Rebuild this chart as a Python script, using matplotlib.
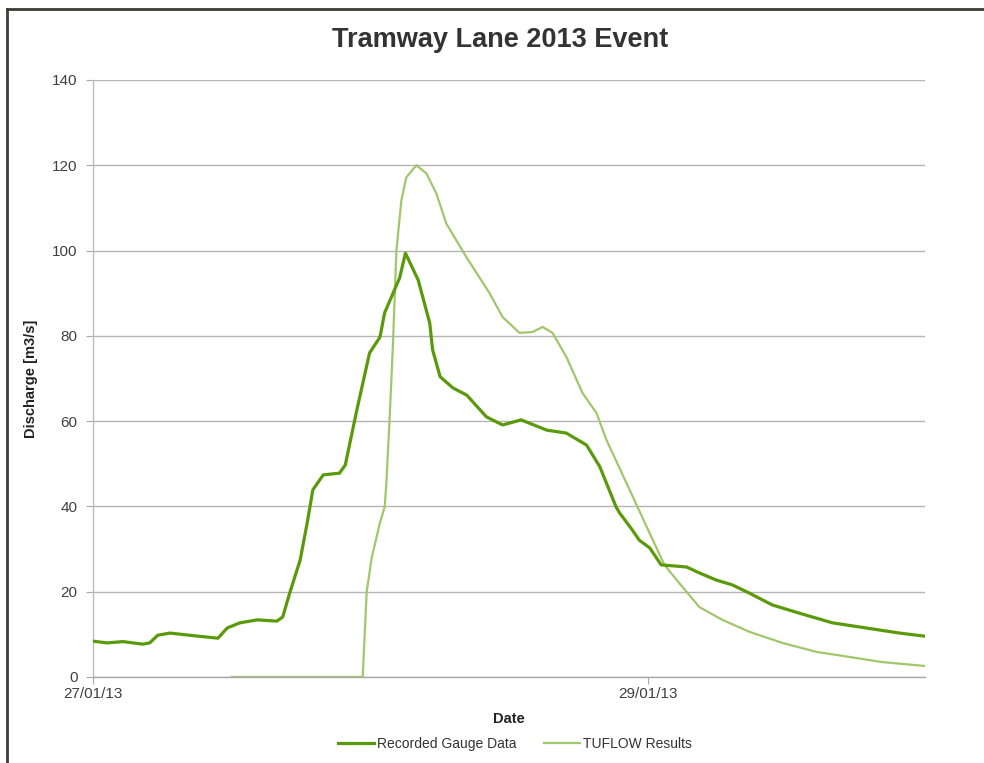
import matplotlib
matplotlib.use("Agg")
import matplotlib.pyplot as plt
import matplotlib.dates as mdates
from matplotlib.lines import Line2D
import datetime as dt

plt.rcParams['font.family'] = ['Liberation Sans', 'DejaVu Sans']

start = dt.datetime(2013, 1, 27)

# Recorded gauge data (hours since 27/01/13 00:00, discharge m3/s)
gauge_hours = [0, 1.2, 2.6, 4.3, 4.9, 5.6, 6.65, 9.0, 10.8, 11.6, 12.7, 14.2, 15.9, 16.4,
               17.0, 17.9, 18.5, 19.0, 19.9, 21.3, 21.8, 22.8, 23.9, 24.8, 25.2, 26.5, 27.0,
               28.1, 29.1, 29.35, 30.0, 31.1, 32.3, 34.0, 35.4, 37.0, 39.2, 40.9, 42.65,
               43.8, 45.2, 45.5, 46.6, 47.2, 48.1, 49.1, 51.3, 52.4, 53.9, 55.25, 56.7,
               58.7, 61.0, 63.9, 66.8, 69.7, 71.8]
gauge_q = [8.4, 8.0, 8.3, 7.7, 8.0, 9.8, 10.3, 9.6, 9.1, 11.5, 12.7, 13.4, 13.1, 14.1,
           19.7, 27.4, 36.0, 43.9, 47.4, 47.8, 49.7, 62.6, 76.0, 79.7, 85.4, 93.6, 99.4,
           93.1, 83.0, 76.7, 70.4, 67.8, 66.1, 61.0, 59.1, 60.3, 57.9, 57.2, 54.4,
           49.3, 39.9, 38.5, 34.5, 32.1, 30.3, 26.3, 25.8, 24.4, 22.7, 21.6, 19.7,
           16.9, 15.0, 12.7, 11.5, 10.3, 9.6]

# TUFLOW model results
tuflow_hours = [12.0, 23.31, 23.65, 24.09, 24.78, 25.21, 25.35, 25.64, 25.90, 26.22, 26.65,
                27.08, 27.95, 28.81, 29.67, 30.54, 32.26, 34.27, 35.40, 36.86, 37.99, 38.85,
                39.71, 40.92, 42.30, 43.51, 44.37, 46.10, 48.09, 49.38, 50.67, 52.40, 54.39,
                56.72, 59.57, 62.50, 65.38, 68.20, 71.83]
tuflow_q = [0, 0, 20, 28, 36, 39.9, 45.4, 61, 76.7, 100, 111.8,
            117.2, 120.0, 118.1, 113.4, 106.3, 98.5, 90, 84.4, 80.7, 80.9, 82.1,
            80.7, 75, 66.6, 61.9, 55.6, 45.5, 33.8, 26.3, 22, 16.4, 13.4,
            10.6, 8, 5.9, 4.7, 3.5, 2.6]

title = "Tramway Lane 2013 Event"
y_ticks = [0, 20, 40, 60, 80, 100, 120, 140]
x_tick_days = [0, 2]

gauge_t = [start + dt.timedelta(hours=h) for h in gauge_hours]
tuflow_t = [start + dt.timedelta(hours=h) for h in tuflow_hours]

fig = plt.figure(figsize=(9.84, 7.63), dpi=100)
ax = fig.add_axes([93/984, 1-677/763, (925-93)/984, (677-80)/763])

grid_c = '#b4b4b4'
ax.set_ylim(0, 140)
ax.set_yticks(y_ticks)
ax.yaxis.grid(True, color=grid_c, linewidth=1.0)
ax.set_axisbelow(True)

ax.plot(gauge_t, gauge_q, color='#5a9a0a', linewidth=2.3, label='Recorded Gauge Data',
        zorder=3, solid_joinstyle='round')
ax.plot(tuflow_t, tuflow_q, color='#a2c76a', linewidth=1.6, label='TUFLOW Results',
        zorder=2, solid_joinstyle='round')

ax.set_xlim(start, start + dt.timedelta(hours=71.9))
ax.set_xticks([start + dt.timedelta(days=d) for d in x_tick_days])
ax.xaxis.set_major_formatter(mdates.DateFormatter('%d/%m/%y'))

for s in ['top', 'right']:
    ax.spines[s].set_visible(False)
ax.spines['left'].set_color('#bdbdbd')
ax.spines['bottom'].set_color('#a8a8a8')
ax.spines['left'].set_linewidth(1.0)
ax.spines['bottom'].set_linewidth(1.0)

ax.tick_params(axis='y', length=5, color='#a8a8a8', labelsize=11, labelcolor='#404040', pad=6)
ax.tick_params(axis='x', length=5, color='#a8a8a8', labelsize=11, labelcolor='#404040', pad=2)

ax.set_ylabel('Discharge [m3/s]', fontsize=10.5, fontweight='bold', color='#222222', labelpad=10)
ax.set_xlabel('Date', fontsize=10.5, fontweight='bold', color='#222222', labelpad=8)
fig.text(500/984, 1-40/763, title, ha='center', va='center', fontsize=19.5,
         fontweight='bold', color='#333333')

fig.legend(loc='center', bbox_to_anchor=(515/984, 1-744/763), ncol=2, frameon=False,
           fontsize=10, handlelength=2.6, columnspacing=2.0, handletextpad=0.2,
           labelcolor='#333333')

# outer frame (top and left edges visible)
bc = '#3a3f36'
fig.add_artist(Line2D([7/984, 1], [1-9/763, 1-9/763], transform=fig.transFigure,
                      color=bc, linewidth=2.0))
fig.add_artist(Line2D([7/984, 7/984], [1-9/763, 0], transform=fig.transFigure,
                      color=bc, linewidth=2.0))

fig.savefig('out.png', dpi=100)
